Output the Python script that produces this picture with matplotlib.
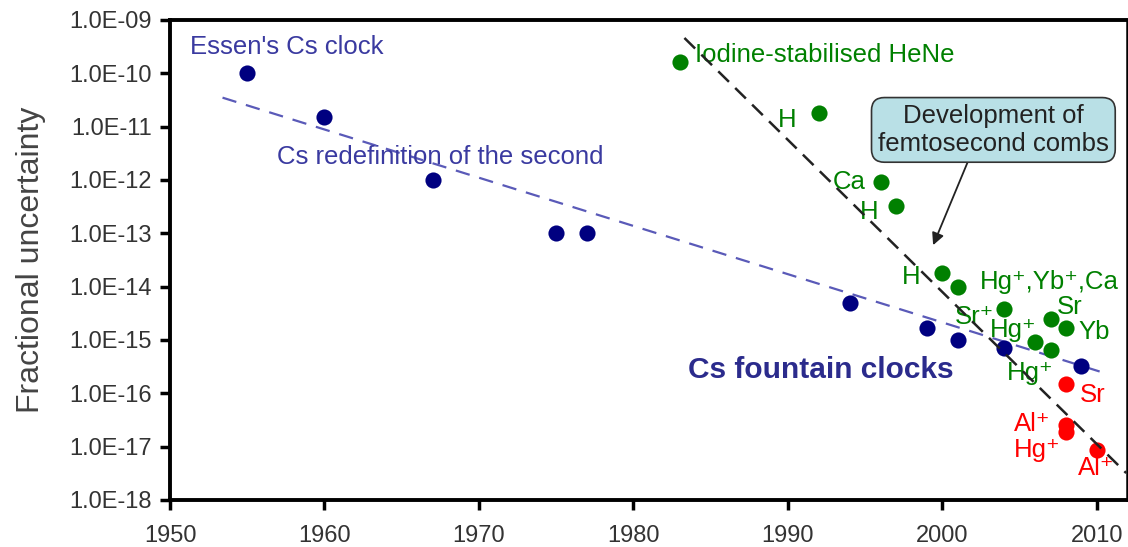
import matplotlib
matplotlib.use("Agg")
import matplotlib.pyplot as plt
import numpy as np

plt.rcParams['font.family'] = ['Liberation Sans', 'DejaVu Sans']

# Data
cs_years = [1955, 1960, 1967, 1975, 1977, 1994, 1999, 2001, 2004, 2009]
cs_unc = [1.0e-10, 1.5e-11, 1.0e-12, 1.0e-13, 1.0e-13, 5.0e-15, 1.7e-15, 1.0e-15, 7.0e-16, 3.2e-16]

opt_years = [1983, 1992, 1996, 1997, 2000, 2001, 2004, 2007, 2008, 2006, 2007]
opt_unc = [1.6e-10, 1.8e-11, 9.0e-13, 3.2e-13, 1.8e-14, 1.0e-14, 3.8e-15, 2.5e-15, 1.7e-15, 9.0e-16, 6.5e-16]

new_years = [2008, 2008, 2008, 2010]
new_unc = [1.5e-16, 2.5e-17, 1.9e-17, 8.6e-18]

cs_trend_years = [1953.4, 2010.5]
cs_trend_unc = [3.5e-11, 2.4e-16]
opt_trend_years = [1983.3, 2011.9]
opt_trend_unc = [4.6e-10, 3.2e-18]

ytick_vals = [1e-18, 1e-17, 1e-16, 1e-15, 1e-14, 1e-13, 1e-12, 1e-11, 1e-10, 1e-9]
ytick_labels = ['1.0E-18', '1.0E-17', '1.0E-16', '1.0E-15', '1.0E-14', '1.0E-13',
                '1.0E-12', '1.0E-11', '1.0E-10', '1.0E-09']
xtick_vals = [1950, 1960, 1970, 1980, 1990, 2000, 2010]

green_labels = ["H", "Ca", "H", "H", "Hg\u207a,Yb\u207a,Ca", "Sr", "Yb", "Sr\u207a", "Hg\u207a", "Hg\u207a"]
green_label_x = [1989.35, 1992.9, 1994.66, 1997.4, 2002.4, 2007.4, 2008.8, 2000.8, 2003.1, 2004.2]
green_label_y = [1.33e-11, 9.1e-13, 2.5e-13, 1.5e-14, 1.23e-14, 4.2e-15, 1.4e-15, 2.7e-15, 1.55e-15, 2.4e-16]

red_labels = ["Sr", "Al\u207a", "Hg\u207a", "Al\u207a"]
red_label_x = [2008.9, 2004.6, 2004.6, 2008.8]
red_label_y = [9.3e-17, 2.7e-17, 8.7e-18, 4.0e-18]

fig = plt.figure(figsize=(11.28, 5.47), dpi=100)
ax = fig.add_axes([170/1128, 47/547, 957/1128, 480/547])

navy = '#000080'
green = '#008000'
red = '#ff0000'
cs_text = '#3a3aa0'
lab_fs = 18.5

ax.plot(cs_trend_years, cs_trend_unc, linestyle=(0, (6.5, 4.5)), color='#5a5ab8', lw=1.6, zorder=2)
ax.plot(opt_trend_years, opt_trend_unc, linestyle=(0, (6, 3.5)), color='#222222', lw=1.8, zorder=4)

ax.scatter(cs_years, cs_unc, s=135, color=navy, zorder=3, linewidths=0)
ax.scatter(opt_years, opt_unc, s=135, color=green, zorder=3, linewidths=0)
ax.scatter(new_years, new_unc, s=135, color=red, zorder=3, linewidths=0)

ax.set_yscale('log')
ax.set_xlim(1950, 2011.95)
ax.set_ylim(1e-18, 1e-9)
ax.set_yticks(ytick_vals)
ax.set_yticklabels(ytick_labels)
ax.minorticks_off()
ax.set_xticks(xtick_vals)
ax.set_xticklabels([str(v) for v in xtick_vals])
ax.tick_params(axis='both', direction='out', length=7, width=2.5, labelsize=17,
               labelcolor='#333333', color='black')
ax.tick_params(axis='x', pad=11)
ax.tick_params(axis='y', pad=6)
for s in ['left', 'bottom', 'top']:
    ax.spines[s].set_linewidth(2.8)
ax.spines['right'].set_linewidth(1.8)

ax.set_ylabel('Fractional uncertainty', fontsize=23, color='#444444', labelpad=17)

# Annotations
ax.text(1951.3, 3.1e-10, "Essen's Cs clock", color=cs_text, fontsize=lab_fs, va='center', ha='left')
ax.text(1956.9, 2.7e-12, "Cs redefinition of the second", color=cs_text,
        fontsize=lab_fs, va='center', ha='left')
ax.text(1983.5, 2.75e-16, "Cs fountain clocks", color='#2b2b8c', fontsize=21.5,
        fontweight='bold', va='center', ha='left')

ax.text(1984.0, 2.2e-10, "Iodine-stabilised HeNe", color=green, fontsize=lab_fs, va='center', ha='left')
for t, x, y in zip(green_labels, green_label_x, green_label_y):
    ax.text(x, y, t, color=green, fontsize=lab_fs, va='center', ha='left')
for t, x, y in zip(red_labels, red_label_x, red_label_y):
    ax.text(x, y, t, color=red, fontsize=lab_fs, va='center', ha='left')

ax.annotate("Development of\nfemtosecond combs", xy=(1999.4, 6.0e-14), xytext=(2003.3, 8.7e-12),
            fontsize=18.5, color='#222222', ha='center', va='center', linespacing=1.2,
            bbox=dict(boxstyle='round,pad=0.25,rounding_size=0.5', fc='#b9e0e6', ec='#333333', lw=1.2),
            arrowprops=dict(arrowstyle='-|>', color='#222222', lw=1.3, mutation_scale=18,
                            shrinkA=0, shrinkB=0, relpos=(0.4, 0.0)),
            zorder=6)

fig.savefig('out.png', dpi=100)
